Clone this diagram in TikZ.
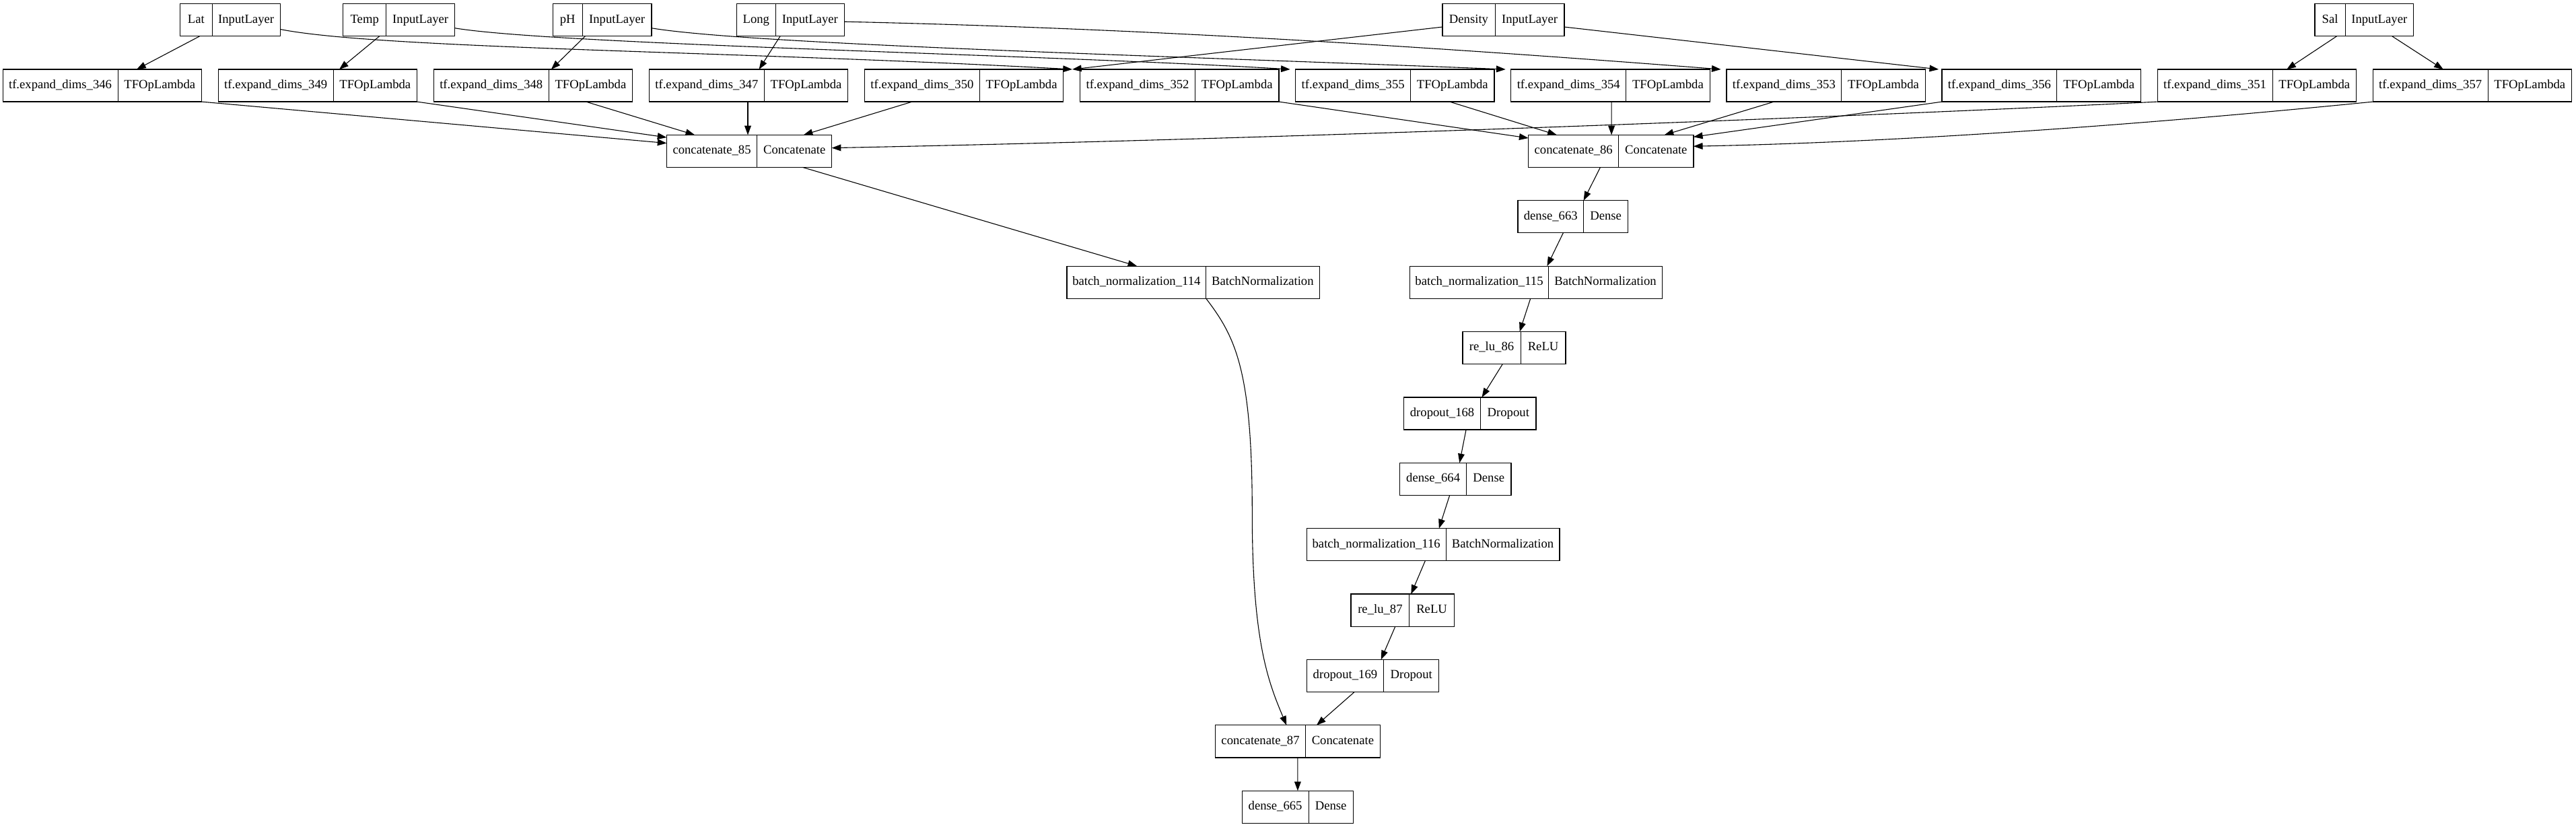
\documentclass[tikz,border=0pt]{standalone}
\usepackage{fontspec}
\setmainfont{Liberation Serif}
\usetikzlibrary{arrows.meta,calc,fit}
\tikzset{
  fld/.style={inner sep=0pt, outer sep=0pt,
    minimum height=19.7pt, text height=5.2pt, text depth=1.6pt,
    font=\fontsize{7.65}{9}\selectfont},
  boxall/.style={draw, line width=0.5pt, inner sep=0pt, outer sep=0pt},
  divider/.style={line width=0.4pt},
  conn/.style={line width=0.45pt, -{Triangle[length=5.6pt,width=4pt]}},
}
% name, x-left, x-divider, x-right, y-top, label1, label2
\newcommand\recnode[7]{%
  \node[fld, anchor=north west, minimum width={(#3)-(#2)}] (#1-l) at (#2,#5) {#6};
  \node[fld, anchor=north west, minimum width={(#4)-(#3)}] (#1-r) at (#3,#5) {#7};
  \node[boxall, fit=(#1-l)(#1-r)] (#1) {};
  \draw[divider] (#1-l.north east) -- (#1-l.south east);
}
\begin{document}
\begin{tikzpicture}[x=1pt, y=-1pt]
\useasboundingbox (0,0) rectangle (1568,503.1);

% ---- inputs
\recnode{lat}{109.7}{129.1}{170.5}{2.3}{Lat}{InputLayer}
\recnode{temp}{208.9}{235.0}{276.9}{2.3}{Temp}{InputLayer}
\recnode{ph}{336.5}{354.5}{396.6}{2.3}{pH}{InputLayer}
\recnode{long}{448.4}{472.1}{514.0}{2.3}{Long}{InputLayer}
\recnode{dens}{878.0}{910.0}{952.2}{2.3}{Density}{InputLayer}
\recnode{sal}{1409.0}{1427.5}{1469.0}{2.3}{Sal}{InputLayer}

% ---- expand dims
\recnode{e346}{1.7}{71.7}{122.7}{42.2}{tf.expand\_dims\_346}{TFOpLambda}
\recnode{e349}{132.85}{202.85}{253.85}{42.2}{tf.expand\_dims\_349}{TFOpLambda}
\recnode{e348}{264.0}{334.0}{385.0}{42.2}{tf.expand\_dims\_348}{TFOpLambda}
\recnode{e347}{395.15}{465.15}{516.15}{42.2}{tf.expand\_dims\_347}{TFOpLambda}
\recnode{e350}{526.3}{596.3}{647.3}{42.2}{tf.expand\_dims\_350}{TFOpLambda}
\recnode{e352}{657.45}{727.45}{778.45}{42.2}{tf.expand\_dims\_352}{TFOpLambda}
\recnode{e355}{788.6}{858.6}{909.6}{42.2}{tf.expand\_dims\_355}{TFOpLambda}
\recnode{e354}{919.75}{989.75}{1040.75}{42.2}{tf.expand\_dims\_354}{TFOpLambda}
\recnode{e353}{1050.9}{1120.9}{1171.9}{42.2}{tf.expand\_dims\_353}{TFOpLambda}
\recnode{e356}{1182.05}{1252.05}{1303.05}{42.2}{tf.expand\_dims\_356}{TFOpLambda}
\recnode{e351}{1313.2}{1383.2}{1434.2}{42.2}{tf.expand\_dims\_351}{TFOpLambda}
\recnode{e357}{1444.35}{1514.35}{1565.35}{42.2}{tf.expand\_dims\_357}{TFOpLambda}

% ---- lower layers
\recnode{c85}{405.8}{460.8}{506.3}{82.1}{concatenate\_85}{Concatenate}
\recnode{c86}{930.3}{985.3}{1030.8}{82.1}{concatenate\_86}{Concatenate}
\recnode{d663}{923.9}{963.9}{991.0}{122.0}{dense\_663}{Dense}
\recnode{bn114}{649.4}{734.1}{803.1}{161.9}{batch\_normalization\_114}{BatchNormalization}
\recnode{bn115}{858.0}{942.7}{1011.7}{161.9}{batch\_normalization\_115}{BatchNormalization}
\recnode{relu86}{890.3}{925.6}{953.0}{201.8}{re\_lu\_86}{ReLU}
\recnode{do168}{854.5}{901.2}{935.0}{241.7}{dropout\_168}{Dropout}
\recnode{d664}{852.1}{892.6}{919.8}{281.6}{dense\_664}{Dense}
\recnode{bn116}{795.4}{880.1}{949.3}{321.5}{batch\_normalization\_116}{BatchNormalization}
\recnode{relu87}{822.3}{857.9}{885.1}{361.4}{re\_lu\_87}{ReLU}
\recnode{do169}{795.4}{842.2}{875.9}{401.3}{dropout\_169}{Dropout}
\recnode{c87}{739.8}{794.6}{840.1}{441.2}{concatenate\_87}{Concatenate}
\recnode{d665}{756.0}{796.5}{823.6}{481.1}{dense\_665}{Dense}

% ---- inputs -> expand dims (straight)
\draw[conn] ([xshift=11.9pt]lat.south west) -- ([xshift=81.5pt]e346.north west);
\draw[conn] ([xshift=22.1pt]temp.south west) -- ([xshift=73.65pt]e349.north west);
\draw[conn] ([xshift=19.7pt]ph.south west) -- ([xshift=71.5pt]e348.north west);
\draw[conn] ([xshift=26.5pt]long.south west) -- ([xshift=66.85pt]e347.north west);
\draw[conn] ([yshift=5.6pt]dens.south west) -- ([xshift=5.4pt]e350.north east);
\draw[conn] ([yshift=5.6pt]dens.south east) -- ([xshift=-2pt]e356.north west);
\draw[conn] ([xshift=13.4pt]sal.south west) -- ([xshift=78.7pt]e351.north west);
\draw[conn] ([xshift=47pt]sal.south west) -- ([xshift=42.85pt]e357.north west);

% ---- inputs -> expand dims (long curves)
\coordinate (latT) at ([yshift=4.2pt]lat.south east);
\coordinate (e352H) at ([xshift=-4.8pt]e352.north west);
\draw[conn] (latT) .. controls ($(latT)+(60,12)$) and ($(e352H)+(-200,-11)$) .. (e352H);
\coordinate (tempT) at ([yshift=4.9pt]temp.south east);
\coordinate (e355H) at ([xshift=-3.3pt]e355.north west);
\draw[conn] (tempT) .. controls ($(tempT)+(60,10)$) and ($(e355H)+(-150,-9)$) .. (e355H);
\coordinate (phT) at ([yshift=4.9pt]ph.south east);
\coordinate (e354H) at ([xshift=-3.35pt]e354.north west);
\draw[conn] (phT) .. controls ($(phT)+(60,10)$) and ($(e354H)+(-200,-8)$) .. (e354H);
\coordinate (longT) at ([yshift=8.8pt]long.south east);
\coordinate (e353H) at ([xshift=-3.4pt]e353.north west);
\draw[conn] (longT) .. controls ($(longT)+(180,4)$) and ($(e353H)+(-180,-14)$) .. (e353H);

% ---- expand dims -> concatenate_85
\draw[conn] (e346.south east) -- ([yshift=-5pt]c85.north west);
\draw[conn] (e349.south east) -- ([yshift=-1.5pt]c85.north west);
\draw[conn] ([xshift=92.7pt]e348.south west) -- ([xshift=17.1pt]c85.north west);
\draw[conn] ([xshift=60.05pt]e347.south west) -- ([xshift=49.4pt]c85.north west);
\draw[conn] ([xshift=28.9pt]e350.south west) -- ([xshift=83.3pt]c85.north west);
\coordinate (e351T) at (e351.south west);
\coordinate (c85H) at ([yshift=-7.9pt]c85.north east);
\draw[conn] (e351T) .. controls ($(e351T)+(-150,7.5)$) and ($(c85H)+(300,-6)$) .. (c85H);

% ---- expand dims -> concatenate_86
\draw[conn] (e352.south east) -- ([yshift=-1.9pt]c86.north west);
\draw[conn] ([xshift=93.8pt]e355.south west) -- ([xshift=17.3pt]c86.north west);
\draw[conn] ([xshift=61.15pt]e354.south west) -- ([xshift=50.6pt]c86.north west);
\draw[conn] ([xshift=28.9pt]e353.south west) -- ([xshift=82.8pt]c86.north west);
\draw[conn] (e356.south west) -- ([yshift=-1.2pt]c86.north east);
\coordinate (e357T) at (e357.south west);
\coordinate (c86H) at ([yshift=-6.9pt]c86.north east);
\draw[conn] (e357T) .. controls ($(e357T)+(-100,10)$) and ($(c86H)+(150,-3)$) .. (c86H);

% ---- lower chain
\draw[conn] ([xshift=82.8pt]c85.south west) -- ([xshift=42.7pt]bn114.north west);
\draw[conn] ([xshift=43.8pt]c86.south west) -- ([xshift=40pt]d663.north west);
\draw[conn] ([xshift=27.6pt]d663.south west) -- ([xshift=83.7pt]bn115.north west);
\draw[conn] ([xshift=73.6pt]bn115.south west) -- ([xshift=34.7pt]relu86.north west);
\draw[conn] ([xshift=24.3pt]relu86.south west) -- ([xshift=47.5pt]do168.north west);
\draw[conn] ([xshift=37.9pt]do168.south west) -- ([xshift=36.3pt]d664.north west);
\draw[conn] ([xshift=30.3pt]d664.south west) -- ([xshift=80.5pt]bn116.north west);
\draw[conn] ([xshift=72.1pt]bn116.south west) -- ([xshift=36.6pt]relu87.north west);
\draw[conn] ([xshift=27pt]relu87.south west) -- ([xshift=45.2pt]do169.north west);
\draw[conn] ([xshift=29pt]do169.south west) -- ([xshift=61.6pt]c87.north west);
\coordinate (bnT) at ([xshift=84.7pt]bn114.south west);
\coordinate (c87H) at ([xshift=43.3pt]c87.north west);
\draw[conn] (bnT) .. controls ($(bnT)+(17.9,23.4)$) and ($(bnT)+(28.1,43.4)$) .. ($(bnT)+(28.1,130.4)$)
  .. controls ($(bnT)+(28.1,208.4)$) and ($(c87H)+(-11.1,-26.2)$) .. (c87H);
\draw[conn] ([xshift=50.1pt]c87.south west) -- ([xshift=33.9pt]d665.north west);
\end{tikzpicture}
\end{document}
